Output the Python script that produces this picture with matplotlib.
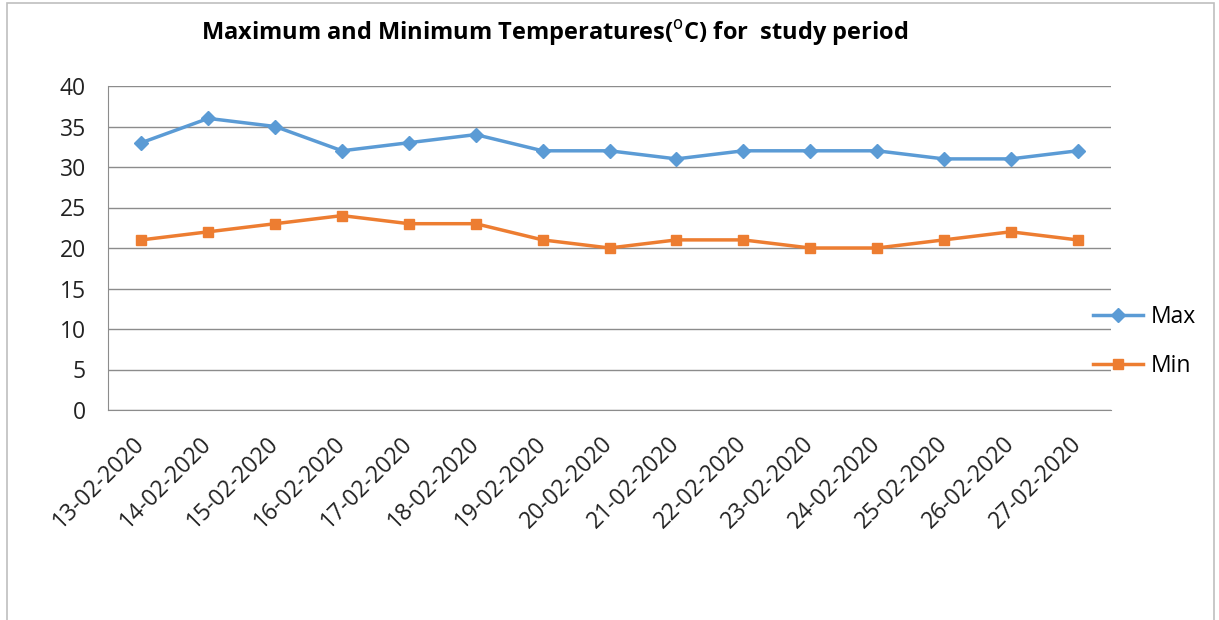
import matplotlib
matplotlib.use('Agg')
from matplotlib import pyplot as plt
from matplotlib.patches import Rectangle

plt.rcParams['font.family'] = ['Open Sans', 'DejaVu Sans']

dates = ['13-02-2020', '14-02-2020', '15-02-2020', '16-02-2020', '17-02-2020',
         '18-02-2020', '19-02-2020', '20-02-2020', '21-02-2020', '22-02-2020',
         '23-02-2020', '24-02-2020', '25-02-2020', '26-02-2020', '27-02-2020']
t_max = [33, 36, 35, 32, 33, 34, 32, 32, 31, 32, 32, 32, 31, 31, 32]
t_min = [21, 22, 23, 24, 23, 23, 21, 20, 21, 21, 20, 20, 21, 22, 21]

blue = '#5B9BD5'
orange = '#ED7D31'
grid_c = '#8C8C8C'

fig = plt.figure(figsize=(12.19, 6.2), dpi=100)
# outer frame like the screenshot
fig.patches.append(Rectangle((7 / 1219, -0.01), 1207 / 1219, 1 - 3 / 620 + 0.01,
                             transform=fig.transFigure, fill=False,
                             edgecolor='#BFBFBF', linewidth=1.2))

ax = fig.add_axes([108 / 1219, 1 - 410 / 620, 1003 / 1219, 324 / 620])
x = list(range(len(dates)))
ax.plot(x, t_max, color=blue, lw=2.5, marker='D', ms=7, label='Max')
ax.plot(x, t_min, color=orange, lw=2.5, marker='s', ms=7.5, label='Min')

ax.set_xlim(-0.5, len(dates) - 0.5)
ax.set_ylim(0, 40)
ax.set_yticks(range(0, 41, 5))
ax.yaxis.grid(True, color=grid_c, lw=1)
ax.set_axisbelow(True)
for s in ['top', 'right']:
    ax.spines[s].set_visible(False)
ax.spines['left'].set_color(grid_c)
ax.spines['bottom'].set_color(grid_c)
ax.tick_params(axis='y', length=0, labelsize=16.5, pad=16, colors='#222222')
ax.tick_params(axis='x', length=0, labelsize=16.5, pad=22, colors='#222222')
ax.set_xticks(x)
ax.set_xticklabels(dates, rotation=45, ha='right', va='center', rotation_mode='anchor')

fig.legend(handles=ax.get_lines(), loc='center left',
           bbox_to_anchor=(1093 / 1219, 1 - 341.5 / 620), frameon=False,
           fontsize=16.5, handlelength=2.2, labelspacing=1.05, handletextpad=0.3,
           borderpad=0, borderaxespad=0)

fig.text(555 / 1219, 1 - 33 / 620, 'Maximum and Minimum Temperatures($^{\\rm o}$C) for  study period',
         ha='center', va='center', fontsize=17, fontweight='bold')

fig.savefig('out.png', dpi=100)
